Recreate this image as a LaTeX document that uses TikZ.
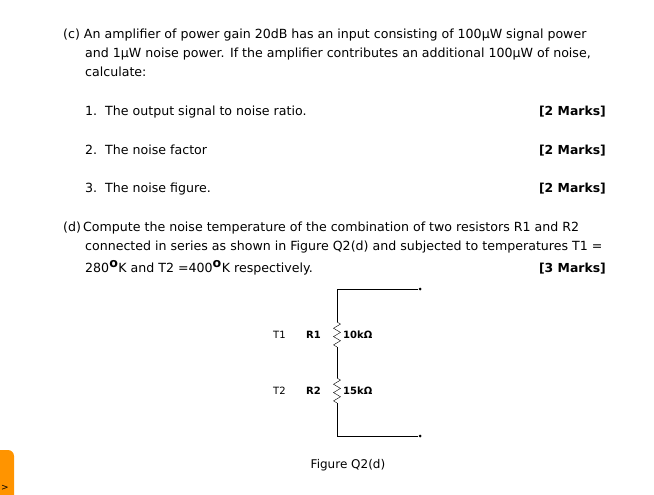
\documentclass[tikz,border=0pt]{standalone}
\usepackage{fontspec}
\setmainfont{DejaVu Sans}
\usetikzlibrary{decorations.pathmorphing}
\begin{document}
\begin{tikzpicture}[x=1pt,y=-1pt,
  t/.style={anchor=base west,inner sep=0pt,font=\fontsize{12.6}{14}\selectfont},
  m/.style={anchor=base east,inner sep=0pt,font=\fontsize{12.4}{14}\selectfont\bfseries},
  s/.style={anchor=base west,inner sep=0pt,font=\fontsize{10}{12}\selectfont},
  res/.style={decorate,decoration={zigzag,segment length=8.33pt,amplitude=3.5pt}},
  dot/.style={circle,fill,minimum size=3pt,inner sep=0pt}]
\useasboundingbox (0,0) rectangle (654,495);
\fill[orange!80!red!70!yellow,rounded corners=6pt] (-10,450) rectangle (14,505);
\node[anchor=base west,inner sep=0pt,font=\small] (arr) at (1,490) {>};
\node[t] (c1) at (63,39) {(c) An amplifier of power gain 20dB has an input consisting of 100μW signal power};
\node[t] (c2) at (85,58) {and 1μW noise power. If the amplifier contributes an additional 100μW of noise,};
\node[t] (c3) at (85,77) {calculate:};
\node[t] (q1) at (85,116) {1.\ \ The output signal to noise ratio.};
\node[m] (m1) at (606,116) {[2 Marks]};
\node[t] (q2) at (85,154) {2.\ \ The noise factor};
\node[m] (m2) at (606,154) {[2 Marks]};
\node[t] (q3) at (85,192) {3.\ \ The noise figure.};
\node[m] (m3) at (606,192) {[2 Marks]};
\node[t] (d1) at (63,231) {(d)\,Compute the noise temperature of the combination of two resistors R1 and R2};
\node[t] (d2) at (85,250) {connected in series as shown in Figure Q2(d) and subjected to temperatures T1 =};
\node[t] (d3) at (85,272) {280$^{\textbf{o}}$K and T2 =400$^{\textbf{o}}$K respectively.};
\node[m] (m4) at (606,272) {[3 Marks]};
% circuit
\coordinate (tl) at (337,289);
\node[dot] (tr) at (420,289) {};
\coordinate (r1a) at (337,322);
\coordinate (r1b) at (337,347);
\coordinate (r2a) at (337,378);
\coordinate (r2b) at (337,403);
\coordinate (bl) at (337,436);
\node[dot] (br) at (420,436) {};
\draw (tr) -- (tl) -- (r1a);
\draw[res] (r1a) -- (r1b);
\draw (r1b) -- (r2a);
\draw[res] (r2a) -- (r2b);
\draw (r2b) -- (bl) -- (br);
\node[s] (T1) at (273,338) {T1};
\node[s] (R1) at (306,338) {\bfseries R1};
\node[s] (v1) at (343,338) {\bfseries 10kΩ};
\node[s] (T2) at (273,394) {T2};
\node[s] (R2) at (306,394) {\bfseries R2};
\node[s] (v2) at (343,394) {\bfseries 15kΩ};
\node[anchor=base,inner sep=0pt,font=\fontsize{12}{14}\selectfont] (fig) at (348,468) {Figure Q2(d)};
\end{tikzpicture}
\end{document}
